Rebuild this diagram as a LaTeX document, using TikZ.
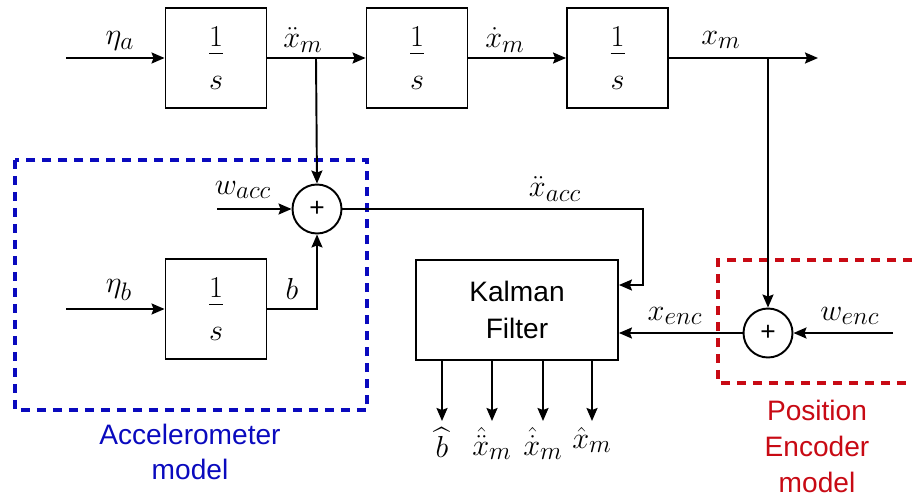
\documentclass[tikz,border=0pt]{standalone}
\usepackage{fontspec}
\setmainfont{Liberation Sans}
\usepackage{amsmath}
\usetikzlibrary{arrows.meta}
\definecolor{accblue}{RGB}{10,10,190}
\definecolor{encred}{RGB}{200,10,20}
\newcommand{\intg}{$\dfrac{\raisebox{-3pt}{$1$}}{\rule{0pt}{18pt}s}$}
\begin{document}
\begin{tikzpicture}[x=0.02cm,y=-0.02cm,
  every node/.style={font=\fontsize{16}{20}\selectfont},
  arr/.style={line width=1.1pt,-{Stealth[length=0.26cm,width=0.22cm,inset=0.04cm]}},
  blk/.style={draw,line width=1.1pt,minimum width=2.02cm,minimum height=2cm,inner sep=0pt,font=\fontsize{18}{22}\selectfont},
  sumnode/.style={draw,circle,line width=1.1pt,minimum size=0.98cm,inner sep=0pt,font=\fontsize{15}{18}\selectfont},
  kbox/.style={draw,line width=1.1pt,minimum width=4.04cm,minimum height=2cm,align=center,font=\fontsize{16}{21}\selectfont},
  lbl/.style={inner sep=0pt,font=\fontsize{19}{23}\selectfont}
]
\useasboundingbox (0,0) rectangle (912,497);

% blocks
\node[blk] (i1) at (216,58) {\intg};
\node[blk] (i2) at (417,58) {\intg};
\node[blk] (i3) at (617.5,58) {\intg};
\node[blk] (i4) at (216,309) {\intg};
\node[sumnode] (s1) at (317,209) {+};
\node[sumnode] (s2) at (768,333) {+};
\node[kbox] (kf) at (517,310) {Kalman\\Filter};

% coordinates
\coordinate (ina) at (66,58);
\coordinate (inb) at (66,309);
\coordinate (inw) at (217,209);
\coordinate (inwe) at (893,333);
\coordinate (br1) at (316,58);
\coordinate (br2) at (768,58);
\coordinate (xout) at (818,58);
\coordinate (k1) at (643,209);
\coordinate (o1) at (442,421);
\coordinate (o2) at (492,421);
\coordinate (o3) at (543,421);
\coordinate (o4) at (592,421);

% dashed model boxes
\draw[accblue,line width=1.8pt,dash pattern=on 0.18cm off 0.14cm] (15,160) rectangle (367,410);
\draw[encred,line width=1.8pt,dash pattern=on 0.18cm off 0.14cm] (912,260) -- (718,260) -- (718,383) -- (912,383);

% connectors
\draw[arr] (ina) -- (i1.west);
\draw[arr] (i1.east) -- (i2.west);
\draw[arr] (i2.east) -- (i3.west);
\draw[arr] (i3.east) -- (xout);
\draw[arr] (br1) -- (s1.north);
\draw[arr] (br2) -- (s2.north);
\draw[arr] (inw) -- (s1.west);
\draw[arr] (inb) -- (i4.west);
\draw[arr] (i4.east) -| (s1.south);
\draw[arr] (s1.east) -- (k1) |- ([yshift=0.5cm]kf.east);
\draw[arr] (inwe) -- (s2.east);
\draw[arr] (s2.west) -- (s2.west -| kf.east);
\draw[arr] (o1 |- kf.south) -- (o1);
\draw[arr] (o2 |- kf.south) -- (o2);
\draw[arr] (o3 |- kf.south) -- (o3);
\draw[arr] (o4 |- kf.south) -- (o4);

% labels
\node[lbl] (la) at (120,41) {$\eta_a$};
\node[lbl] (l1) at (303,40) {$\ddot{x}_m$};
\node[lbl] (l2) at (505,40) {$\dot{x}_m$};
\node[lbl] (l3) at (721,40) {$x_m$};
\node[lbl] (lw) at (243,190) {$w_{acc}$};
\node[lbl] (lb) at (119,290) {$\eta_b$};
\node[lbl] (lbb) at (292,289) {$b$};
\node[lbl] (lacc) at (555,189) {$\ddot{x}_{acc}$};
\node[lbl] (lenc) at (675,316) {$x_{enc}$};
\node[lbl] (lwe) at (850,316) {$w_{enc}$};
\node[lbl,anchor=north] (ob1) at (442,427) {$\widehat{b}$};
\node[lbl,anchor=north] (ob2) at (492,427) {$\hat{\ddot{x}}_m$};
\node[lbl,anchor=north] (ob3) at (543,427) {$\hat{\dot{x}}_m$};
\node[lbl,anchor=north] (ob4) at (592,427) {$\hat{x}_m$};

\node[accblue,align=center,font=\fontsize{16}{20}\selectfont] (accl) at (190,452) {Accelerometer\\model};
\node[encred,align=center,font=\fontsize{16}{20.5}\selectfont] (encl) at (817,446) {Position\\Encoder\\model};
\end{tikzpicture}
\end{document}
